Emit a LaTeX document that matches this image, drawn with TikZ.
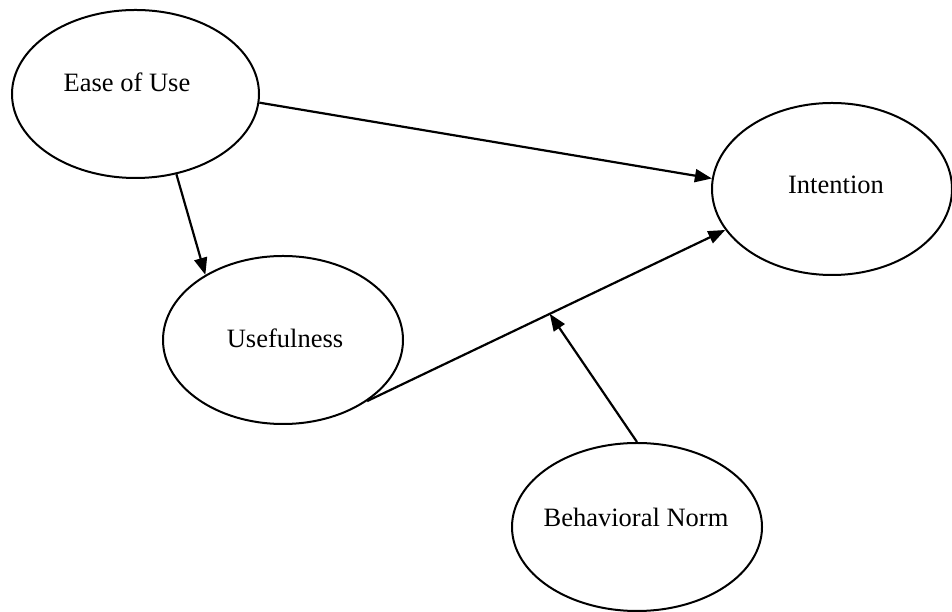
\documentclass[tikz,border=0pt]{standalone}
\usepackage{fontspec}
\setmainfont{Liberation Serif}
\usetikzlibrary{shapes.geometric,arrows.meta}
\begin{document}
\begin{tikzpicture}[x=1pt,y=1pt,
  oval/.style={ellipse,draw=black,line width=2pt,inner sep=0pt},
  lbl/.style={font=\fontsize{26.5}{30}\selectfont,inner sep=0pt},
  conn/.style={line width=2.2pt,draw=black},
  arr/.style={conn,-{Triangle[length=17pt,width=13pt]}}]
\useasboundingbox (0,0) rectangle (952,612);
\node[oval,minimum width=247pt,minimum height=168pt] (ease) at (135.5,518) {};
\node[oval,minimum width=240pt,minimum height=172pt] (int) at (832,423) {};
\node[oval,minimum width=240pt,minimum height=168pt] (use) at (283,272) {};
\node[oval,minimum width=250pt,minimum height=168pt] (norm) at (637,85) {};
\node[lbl] (easet) at (127,530) {Ease of Use};
\node[lbl] (intt) at (836,427) {Intention};
\node[lbl] (uset) at (285,274) {Usefulness};
\node[lbl] (normt) at (636,95) {Behavioral Norm};
\draw[arr] (ease.-4.2) -- (int.175.2);
\draw[arr] (ease.-63) -- (use.140);
\draw[arr] (use.-36) -- coordinate[pos=0.51] (mid) (int.201.5);
\draw[arr] (norm.north) -- (mid);
\end{tikzpicture}
\end{document}
